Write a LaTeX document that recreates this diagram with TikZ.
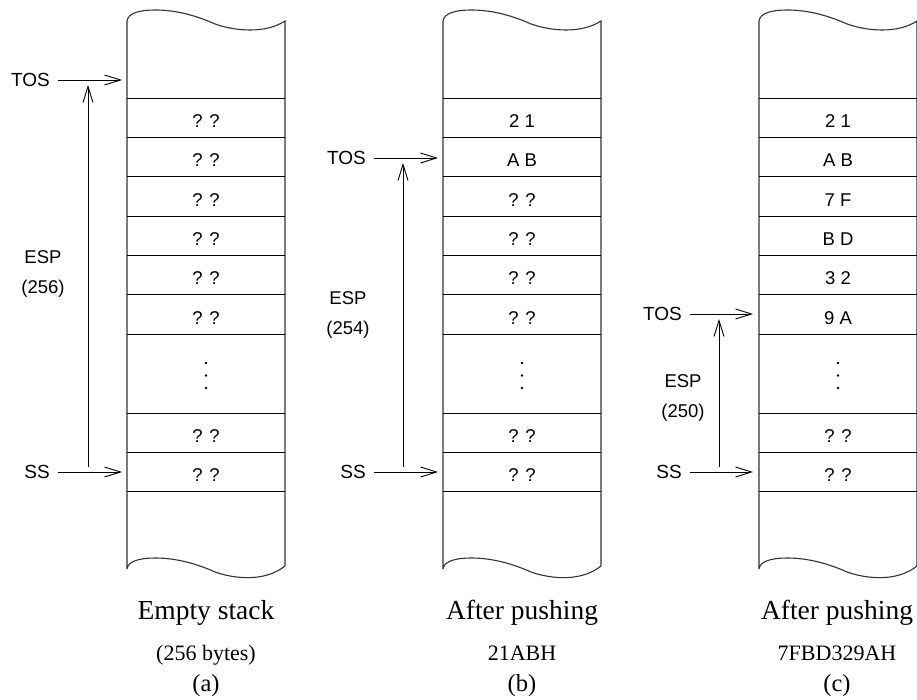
\documentclass[tikz,border=0pt]{standalone}
\usepackage{fontspec}
\setmainfont{Liberation Serif}
\setsansfont{Liberation Sans}
\usetikzlibrary{arrows.meta,positioning}
\tikzset{
  >={Straight Barb[length=16pt,width=10pt]},
  outline/.style={line width=1.1pt,draw=black!80},
  rowline/.style={line width=0.9pt},
  cell/.style={font=\sffamily\fontsize{18.5}{18.5}\selectfont,inner sep=0pt},
  tag/.style={font=\sffamily\fontsize{19}{19}\selectfont,inner xsep=8pt,inner ysep=0pt,anchor=east},
  esplbl/.style={font=\sffamily\fontsize{18.5}{30}\selectfont,inner sep=0pt,align=center},
  ptr/.style={->,line width=0.9pt},
  capmain/.style={font=\fontsize{27.5}{27.5}\selectfont,inner sep=0pt,anchor=base},
  capsub/.style={font=\fontsize{22}{22}\selectfont,inner sep=0pt,anchor=base},
  capno/.style={font=\fontsize{24.5}{24.5}\selectfont,inner sep=0pt,anchor=base},
}
\begin{document}
\begin{tikzpicture}[x=1pt,y=-1pt]
\useasboundingbox (0,0) rectangle (917,700);

% the three stack frames
\foreach \sx in {0,316,632}{
\begin{scope}[xshift=\sx pt]
\draw[outline] (127,569) -- (127,21)
  .. controls (128,13) and (140,10) .. (155,10)
  .. controls (175,10) and (195,15) .. (215,24)
  .. controls (235,31) and (265,34) .. (285,21) -- (285,566)
  .. controls (265,582) and (235,579) .. (215,572)
  .. controls (195,563) and (175,558) .. (155,558)
  .. controls (140,558) and (128,561) .. (127,569);
\foreach \y in {98,137.33,176.67,216,255.33,294.67,334,413,452.33,491.67}
  \draw[rowline] (127,\y) -- (285,\y);
\foreach \y in {363,375.5,388}
  \fill (206,\y) circle (1.3pt);
\end{scope}
}

% cell contents
\foreach \sx/\nm/\ca/\cb/\cc/\cd/\ce/\cf in {
  0/a/? ?/? ?/? ?/? ?/? ?/? ?,
  316/b/2 1/A B/? ?/? ?/? ?/? ?,
  632/c/2 1/A B/7 F/B D/3 2/9 A}{
\node[cell] (\nm-1) at (206+\sx,121) {\ca};
\node[cell] (\nm-2) at (206+\sx,160.3) {\cb};
\node[cell] (\nm-3) at (206+\sx,199.7) {\cc};
\node[cell] (\nm-4) at (206+\sx,239) {\cd};
\node[cell] (\nm-5) at (206+\sx,278.3) {\ce};
\node[cell] (\nm-6) at (206+\sx,317.7) {\cf};
\node[cell] (\nm-7) at (206+\sx,436) {? ?};
\node[cell] (\nm-8) at (206+\sx,475.3) {? ?};
}

% pointers
\node[tag] (tosa) at (58,80) {TOS};
\coordinate (tosa-end) at (122,80);
\node[tag] (ssa) at (58,472) {SS};
\coordinate (ssa-end) at (122,472);
\coordinate (espa-bot) at (88,467);
\coordinate (espa-top) at (88,85);
\node[esplbl] (espa) at (43,274) {ESP\\(256)};

\node[tag] (tosb) at (374,158) {TOS};
\coordinate (tosb-end) at (438,158);
\node[tag] (ssb) at (374,472) {SS};
\coordinate (ssb-end) at (438,472);
\coordinate (espb-bot) at (403,467);
\coordinate (espb-top) at (403,163);
\node[esplbl] (espb) at (348,315) {ESP\\(254)};

\node[tag] (tosc) at (690,314) {TOS};
\coordinate (tosc-end) at (753,314);
\node[tag] (ssc) at (690,472) {SS};
\coordinate (ssc-end) at (753,472);
\coordinate (espc-bot) at (719,467);
\coordinate (espc-top) at (719,319);
\node[esplbl] (espc) at (683,398) {ESP\\(250)};

\foreach \nm in {a,b,c}{
\draw[ptr] (tos\nm) -- (tos\nm-end);
\draw[ptr] (ss\nm) -- (ss\nm-end);
\draw[ptr] (esp\nm-bot) -- (esp\nm-top);
}

% captions
\node[capmain] (capa) at (206,619) {Empty stack};
\node[capsub] (suba) at (206,660) {(256 bytes)};
\node[capno] (noa) at (206,691) {(a)};
\node[capmain] (capb) at (522,619) {After pushing};
\node[capsub] (subb) at (522,660) {21ABH};
\node[capno] (nob) at (522,691) {(b)};
\node[capmain] (capc) at (837,619) {After pushing};
\node[capsub] (subc) at (837,660) {7FBD329AH};
\node[capno] (noc) at (837,691) {(c)};
\end{tikzpicture}
\end{document}
